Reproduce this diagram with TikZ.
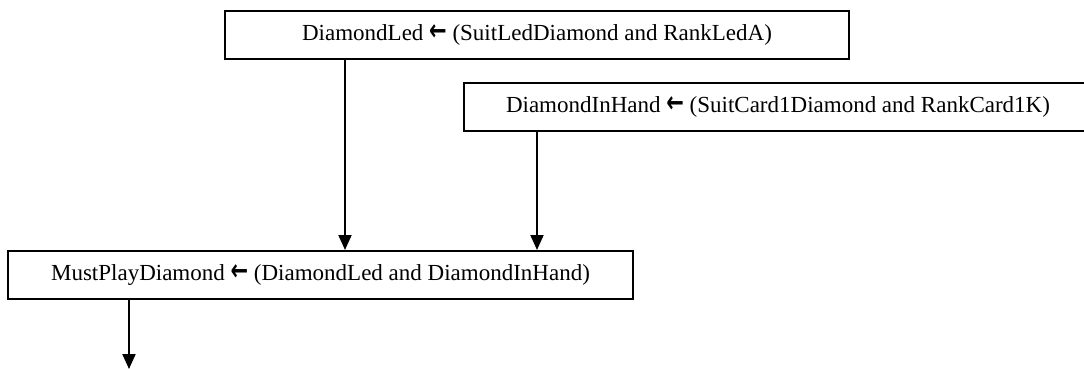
\documentclass[tikz,border=0pt]{standalone}
\usepackage{fontspec}
\usepackage{graphicx}
\setmainfont{Liberation Serif}
\newfontfamily\arrowfont{DejaVu Sans}
\newcommand{\larr}{\scalebox{1}[1.4]{\arrowfont\bfseries\fontsize{21}{26}\selectfont ←}}
\usetikzlibrary{arrows.meta}
\begin{document}
\begin{tikzpicture}[x=1pt,y=-1pt,
  box/.style={draw,line width=2pt,minimum height=48pt,inner sep=0pt,font=\fontsize{23}{27}\selectfont},
  conn/.style={line width=2pt,-{Triangle[width=13pt,length=15pt]}}]
\useasboundingbox (0,0) rectangle (1084,369);
\node[box,minimum width=624pt] (led) at (537,35) {DiamondLed \larr{} (SuitLedDiamond and RankLedA)};
\node[box,minimum width=628pt] (hand) at (778,107) {DiamondInHand \larr{} (SuitCard1Diamond and RankCard1K)};
\node[box,minimum width=625pt] (must) at (320.5,275) {MustPlayDiamond \larr{} (DiamondLed and DiamondInHand)};
\coordinate (out) at (129,369);
\draw[conn] ([xshift=-192pt]led.south) -- ([xshift=-192pt]led.south |- must.north);
\draw[conn] ([xshift=-241pt]hand.south) -- ([xshift=-241pt]hand.south |- must.north);
\draw[conn] (must.south -| out) -- (out);
\end{tikzpicture}
\end{document}
